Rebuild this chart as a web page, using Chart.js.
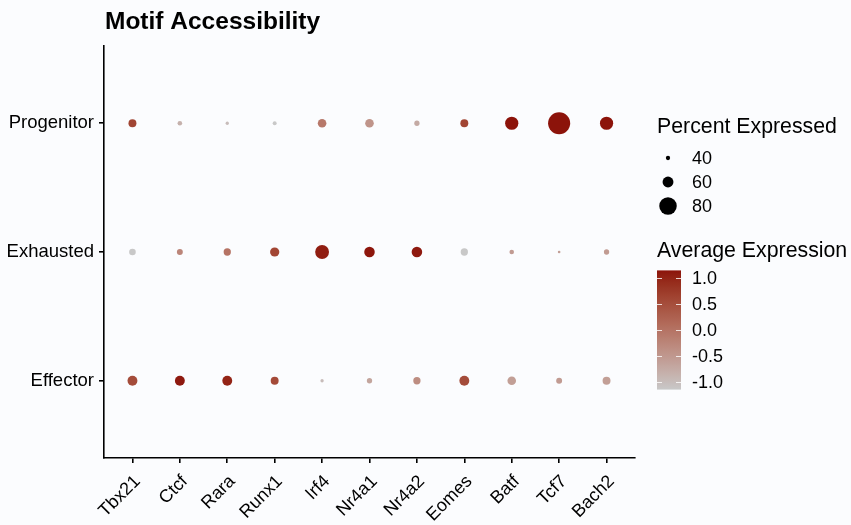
<!DOCTYPE html>
<html>
<head>
<meta charset="utf-8">
<script src="https://cdn.jsdelivr.net/npm/chart.js@4/dist/chart.umd.min.js"></script>
<style>
  html, body { margin: 0; padding: 0; background: #fbfcfe; }
  #wrap { width: 851px; height: 525px; }
</style>
</head>
<body>
<div id="wrap"><canvas id="dot" width="851" height="525"></canvas></div>
<script>
// Genes (x axis) and cell groups (y axis, bottom to top)
const genes = ['Tbx21', 'Ctcf', 'Rara', 'Runx1', 'Irf4', 'Nr4a1', 'Nr4a2', 'Eomes', 'Batf', 'Tcf7', 'Bach2'];
const groups = ['Effector', 'Exhausted', 'Progenitor'];

// Percent of cells with accessible motif, per group
const pctEffector   = [57, 57, 57, 51, 37, 43, 49, 57, 53, 45, 51];
const pctExhausted  = [47, 45, 49, 55, 69, 59, 59, 49, 41, 35, 43];
const pctProgenitor = [51, 41, 37, 39, 53, 53, 43, 51, 67, 94, 67];

// Scaled average accessibility, per group
const avgEffector   = [0.53, 1.10, 1.00, 0.55, -1.00, -0.68, -0.35, 0.53, -0.60, -0.55, -0.60];
const avgExhausted  = [-1.15, -0.25, 0.00, 0.60, 1.07, 1.13, 1.10, -1.15, -0.55, -0.60, -0.55];
const avgProgenitor = [0.62, -0.85, -1.00, -1.15, -0.07, -0.45, -0.75, 0.62, 1.15, 1.15, 1.15];

// Legend breaks
const sizeBreaks = [40, 60, 80];
const colorBreaks = [1.0, 0.5, 0.0, -0.5, -1.0];
const colorLimits = [-1.155, 1.155];

const LOW = '#c8c8c8', HIGH = '#8c120a';
const FONT = '"Liberation Sans", Arial, Helvetica, sans-serif';

// Size scale: percent -> radius in px
function radiusOf(pct) { return Math.max(0.8, 0.165 * (pct - 27)); }

// Colour scale interpolated in CIE Lab
function hexToRgb(h) { return [1, 3, 5].map(i => parseInt(h.slice(i, i + 2), 16)); }
function rgbToLab(rgb) {
  const lin = rgb.map(c => { c /= 255; return c <= 0.04045 ? c / 12.92 : Math.pow((c + 0.055) / 1.055, 2.4); });
  const X = (lin[0] * 0.4124 + lin[1] * 0.3576 + lin[2] * 0.1805) / 0.95047;
  const Y = (lin[0] * 0.2126 + lin[1] * 0.7152 + lin[2] * 0.0722);
  const Z = (lin[0] * 0.0193 + lin[1] * 0.1192 + lin[2] * 0.9505) / 1.08883;
  const f = t => t > 0.008856 ? Math.cbrt(t) : 7.787 * t + 16 / 116;
  return [116 * f(Y) - 16, 500 * (f(X) - f(Y)), 200 * (f(Y) - f(Z))];
}
function labToRgb(lab) {
  const fy = (lab[0] + 16) / 116, fx = fy + lab[1] / 500, fz = fy - lab[2] / 200;
  const g = t => t > 0.206893 ? t * t * t : (t - 16 / 116) / 7.787;
  const X = g(fx) * 0.95047, Y = g(fy), Z = g(fz) * 1.08883;
  const lin = [
    X * 3.2406 + Y * -1.5372 + Z * -0.4986,
    X * -0.9689 + Y * 1.8758 + Z * 0.0415,
    X * 0.0557 + Y * -0.2040 + Z * 1.0570
  ];
  return lin.map(c => {
    c = c <= 0.0031308 ? 12.92 * c : 1.055 * Math.pow(c, 1 / 2.4) - 0.055;
    return Math.round(Math.min(1, Math.max(0, c)) * 255);
  });
}
const labLow = rgbToLab(hexToRgb(LOW)), labHigh = rgbToLab(hexToRgb(HIGH));
function colorOf(v) {
  let t = (v - colorLimits[0]) / (colorLimits[1] - colorLimits[0]);
  t = Math.min(1, Math.max(0, t));
  const lab = labLow.map((l, i) => l + (labHigh[i] - l) * t);
  const rgb = labToRgb(lab);
  return `rgb(${rgb[0]},${rgb[1]},${rgb[2]})`;
}

const pctRows = [pctEffector, pctExhausted, pctProgenitor];
const avgRows = [avgEffector, avgExhausted, avgProgenitor];
const points = [], colors = [];
groups.forEach((g, gi) => {
  genes.forEach((gene, xi) => {
    points.push({ x: xi + 1, y: gi + 1, r: radiusOf(pctRows[gi][xi]) });
    colors.push(colorOf(avgRows[gi][xi]));
  });
});

// Title, size legend and colour bar
const decorations = {
  id: 'decorations',
  beforeDraw(chart) {
    const ctx = chart.ctx;
    ctx.save();
    ctx.fillStyle = '#fbfcfe';
    ctx.fillRect(0, 0, chart.width, chart.height);
    ctx.restore();
  },
  afterDraw(chart) {
    const ctx = chart.ctx;
    ctx.save();
    ctx.fillStyle = '#000';
    ctx.textBaseline = 'alphabetic';
    ctx.textAlign = 'left';
    ctx.font = `bold 24.5px ${FONT}`;
    ctx.fillText('Motif Accessibility', 105, 29);

    // Percent Expressed
    ctx.font = `21.3px ${FONT}`;
    ctx.fillText('Percent Expressed', 657, 133);
    ctx.font = `18px ${FONT}`;
    ctx.textBaseline = 'middle';
    sizeBreaks.forEach((b, i) => {
      const y = 158 + i * 24;
      ctx.beginPath();
      ctx.arc(668, y, radiusOf(b), 0, Math.PI * 2);
      ctx.fill();
      ctx.fillText(String(b), 692, y + 1);
    });

    // Average Expression colour bar
    ctx.textBaseline = 'alphabetic';
    ctx.font = `21.3px ${FONT}`;
    ctx.fillText('Average Expression', 657, 257);
    const x0 = 657, w = 24, ppu = 51.6, yZero = 330;
    const yTop = yZero - ppu * colorLimits[1], yBot = yZero - ppu * colorLimits[0];
    const grad = ctx.createLinearGradient(0, yBot, 0, yTop);
    for (let i = 0; i <= 40; i++) {
      const v = colorLimits[0] + (colorLimits[1] - colorLimits[0]) * i / 40;
      grad.addColorStop(i / 40, colorOf(v));
    }
    ctx.fillStyle = grad;
    ctx.fillRect(x0, yTop, w, yBot - yTop);
    ctx.strokeStyle = 'rgba(255,255,255,0.8)';
    ctx.lineWidth = 1;
    ctx.font = `18px ${FONT}`;
    ctx.textBaseline = 'middle';
    ctx.fillStyle = '#000';
    colorBreaks.forEach(b => {
      const y = Math.round(yZero - ppu * b) + 0.5;
      ctx.beginPath();
      ctx.moveTo(x0, y); ctx.lineTo(x0 + 5, y);
      ctx.moveTo(x0 + w - 5, y); ctx.lineTo(x0 + w, y);
      ctx.stroke();
      ctx.fillText(b.toFixed(1), 692, y + 1);
    });
    ctx.restore();
  }
};

new Chart(document.getElementById('dot'), {
  type: 'bubble',
  data: {
    datasets: [{
      data: points,
      backgroundColor: colors,
      borderWidth: 0,
      hoverBorderWidth: 0
    }]
  },
  options: {
    responsive: false,
    animation: false,
    devicePixelRatio: 1,
    layout: { padding: { top: 46, right: 216, left: 0, bottom: 0 } },
    plugins: { legend: { display: false }, tooltip: { enabled: false }, title: { display: false } },
    scales: {
      x: {
        type: 'linear',
        min: 0.4, max: 11.6,
        afterBuildTicks: s => { s.ticks = genes.map((g, i) => ({ value: i + 1 })); },
        afterFit: s => { s.height = 67; },
        ticks: {
          callback: v => genes[v - 1],
          autoSkip: false,
          minRotation: 45, maxRotation: 45,
          color: '#000',
          padding: 8,
          labelOffset: 5,
          font: { family: FONT, size: 18 }
        },
        grid: { display: true, drawOnChartArea: false, drawTicks: true, tickLength: 5, color: '#000', lineWidth: 1.6 },
        border: { display: true, color: '#000', width: 1.6 }
      },
      y: {
        type: 'linear',
        min: 0.4, max: 3.6,
        afterBuildTicks: s => { s.ticks = groups.map((g, i) => ({ value: i + 1 })); },
        afterFit: s => { s.width = 104; },
        ticks: {
          callback: v => groups[v - 1],
          color: '#000',
          padding: 5,
          font: { family: FONT, size: 18.5 }
        },
        grid: { display: true, drawOnChartArea: false, drawTicks: true, tickLength: 5, color: '#000', lineWidth: 1.6 },
        border: { display: true, color: '#000', width: 1.6 }
      }
    }
  },
  plugins: [decorations]
});
</script>
</body>
</html>
